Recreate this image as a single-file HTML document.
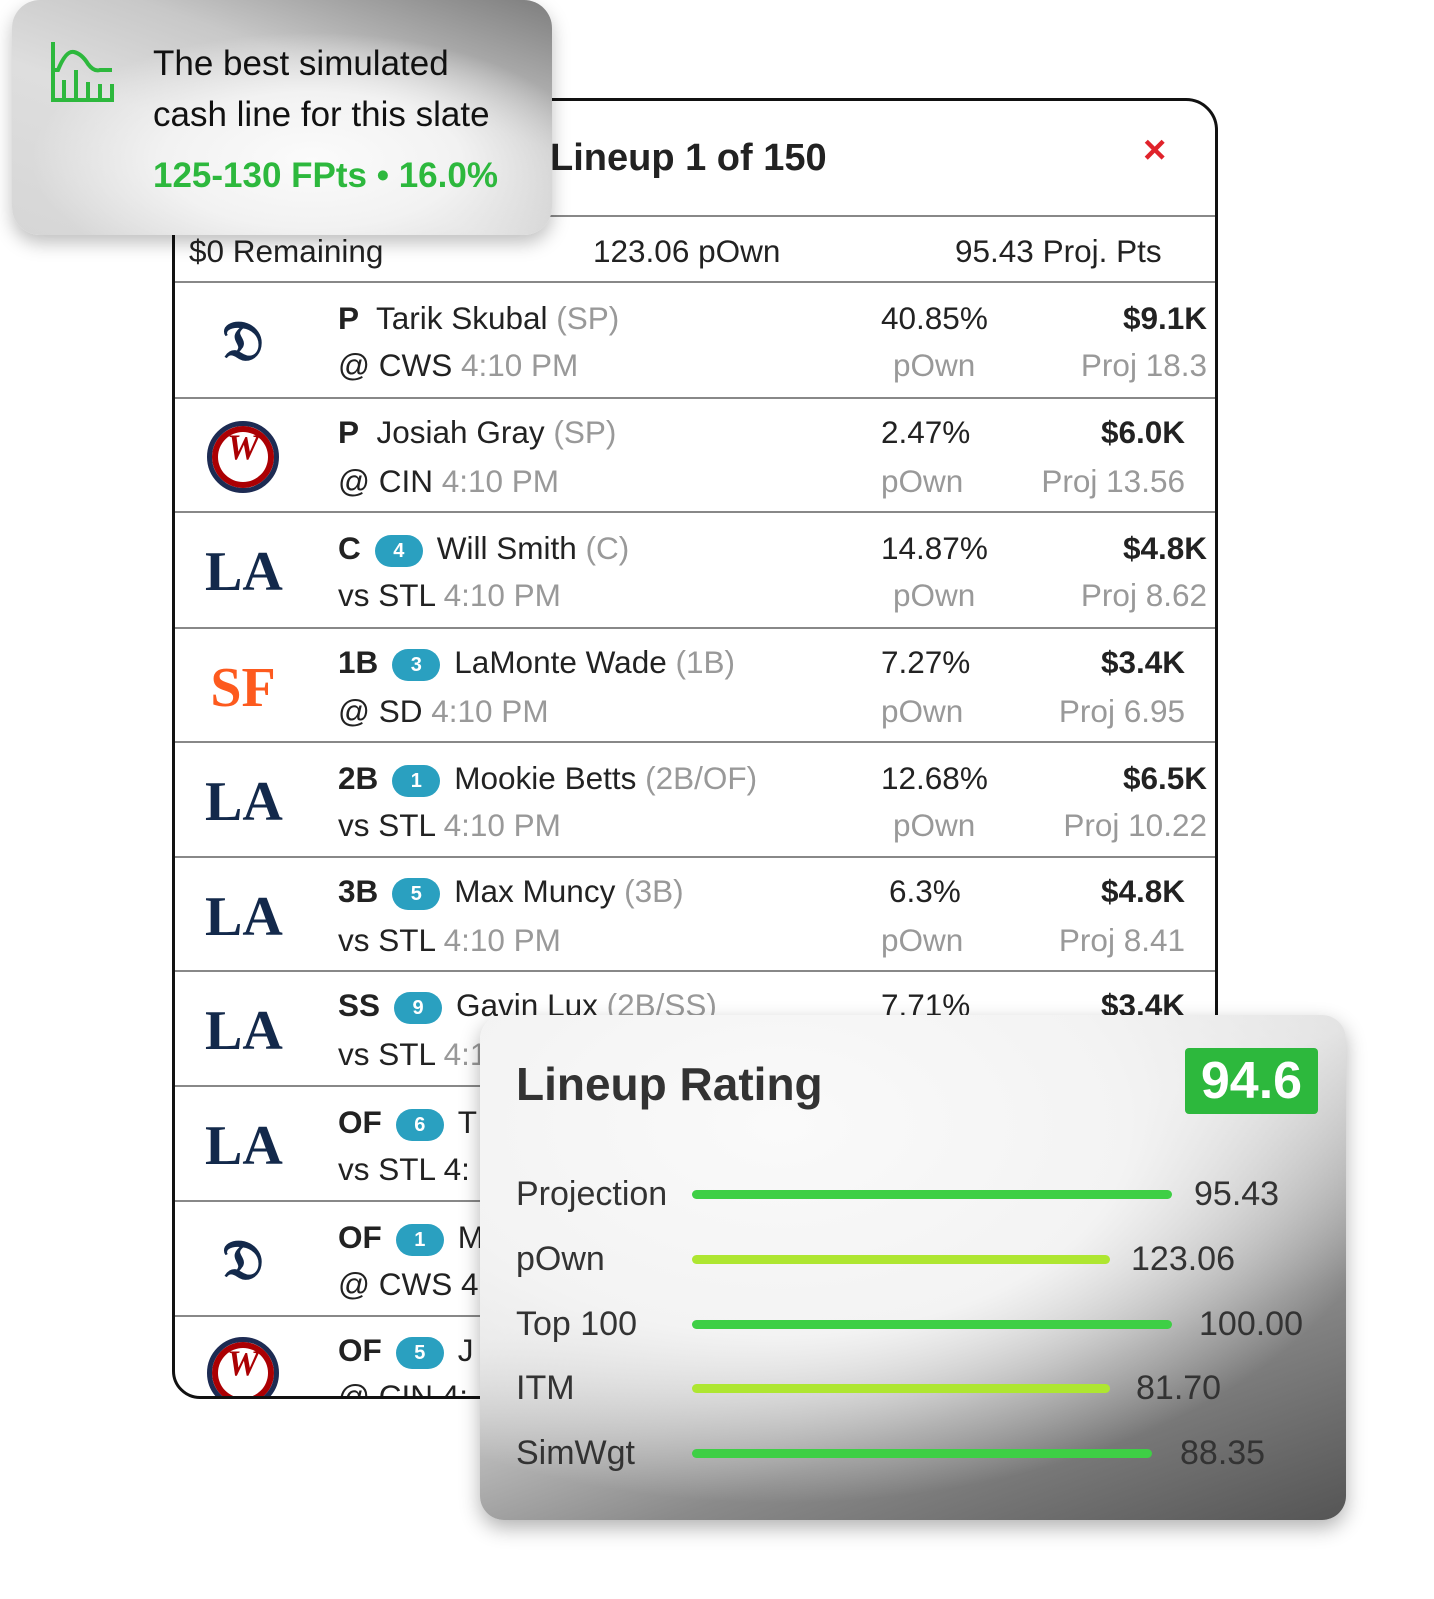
<!DOCTYPE html>
<html><head><meta charset="utf-8"><style>
body{margin:0;width:1434px;height:1599px;background:#fff;position:relative;overflow:hidden;font-family:"Liberation Sans",sans-serif;}
.a{position:absolute;white-space:nowrap}
#panel{position:absolute;left:172px;top:98px;width:1040px;height:1295px;border:3px solid #111;border-radius:6px 32px 6px 28px;overflow:hidden;background:#fff}
.row{position:absolute;left:0;width:1040px;height:114px;border-top:2px solid #888}
.t{position:absolute;font-size:31.5px;color:#222;white-space:nowrap;line-height:34px}
.g{color:#999}
.b{font-weight:bold}
.badge{display:inline-block;width:48px;height:32px;border-radius:16px;background:#2aa0c0;color:#fff;font-size:20px;font-weight:bold;text-align:center;line-height:32px;vertical-align:middle;margin:0 14px 0 14px}
.logo{position:absolute;left:30px;top:24px;width:76px;height:70px;text-align:center;font-size:56px;line-height:70px;font-weight:bold;color:#13294b;font-family:"Liberation Serif",serif}
.wsh{position:absolute;left:32px;top:22px;width:62px;height:62px;border-radius:50%;background:#fff;border:5px solid #1d2b53;box-shadow:inset 0 0 0 6px #ab0003;text-align:center;line-height:60px;color:#ab0003;font:italic bold 36px "Liberation Serif",serif}
#card1{position:absolute;left:12px;top:0;width:540px;height:235px;border-radius:28px;background:radial-gradient(ellipse 330px 150px at 300px 160px,#fbfbfb 0%,#f2f2f2 45%,rgba(220,220,220,0) 85%),linear-gradient(200deg,#7e7e7e 0%,#c8c8c8 35%,#dedede 60%,#d6d6d6 100%);box-shadow:0 8px 18px rgba(0,0,0,.25)}
#card2{position:absolute;left:480px;top:1015px;width:866px;height:505px;border-radius:24px;background:radial-gradient(ellipse 700px 420px at 300px 110px,#fafafa 0%,#f3f3f3 50%,rgba(190,190,190,0) 90%),linear-gradient(160deg,#f5f5f5 0%,#e0e0e0 40%,#8a8a8a 70%,#555 100%);box-shadow:0 8px 20px rgba(0,0,0,.3)}
.lab{position:absolute;left:36px;font-size:34px;color:#333}
.bar{position:absolute;left:212px;height:9px;border-radius:5px}
.val{position:absolute;font-size:34px;color:#333}
</style></head><body>
<div id="panel">
  <div class="t b" style="left:375px;top:35px;font-size:38px;line-height:44px">Lineup 1 of 150</div>
  <div class="t b" style="left:968px;top:32px;font-size:40px;color:#e0232b">×</div>
  <div style="position:absolute;left:0;top:114px;width:1040px;border-top:2px solid #888"></div>
  <div class="t" style="left:14px;top:133px">$0 Remaining</div>
  <div class="t" style="left:418px;top:133px">123.06 pOwn</div>
  <div class="t" style="left:780px;top:133px">95.43 Proj. Pts</div>

  <div class="row" style="top:180px"><div class="logo">𝔇</div>
    <div class="t" style="left:163px;top:18px"><b>P</b>&nbsp; Tarik Skubal <span class="g">(SP)</span></div>
    <div class="t" style="left:163px;top:65px">@ CWS <span class="g">4:10 PM</span></div>
    <div class="t" style="left:706px;top:18px">40.85%</div><div class="t g" style="left:718px;top:65px">pOwn</div>
    <div class="t b" style="right:8px;top:18px">$9.1K</div><div class="t g" style="right:8px;top:65px">Proj 18.3</div></div>

  <div class="row" style="top:296px"><div class="wsh">W</div>
    <div class="t" style="left:163px;top:16px"><b>P</b>&nbsp; Josiah Gray <span class="g">(SP)</span></div>
    <div class="t" style="left:163px;top:65px">@ CIN <span class="g">4:10 PM</span></div>
    <div class="t" style="left:706px;top:16px">2.47%</div><div class="t g" style="left:706px;top:65px">pOwn</div>
    <div class="t b" style="right:30px;top:16px">$6.0K</div><div class="t g" style="right:30px;top:65px">Proj 13.56</div></div>

  <div class="row" style="top:410px"><div class="logo">LA</div>
    <div class="t" style="left:163px;top:18px"><b>C</b><span class="badge">4</span>Will Smith <span class="g">(C)</span></div>
    <div class="t" style="left:163px;top:65px">vs STL <span class="g">4:10 PM</span></div>
    <div class="t" style="left:706px;top:18px">14.87%</div><div class="t g" style="left:718px;top:65px">pOwn</div>
    <div class="t b" style="right:8px;top:18px">$4.8K</div><div class="t g" style="right:8px;top:65px">Proj 8.62</div></div>

  <div class="row" style="top:526px"><div class="logo" style="color:#fd5a1e">SF</div>
    <div class="t" style="left:163px;top:16px"><b>1B</b><span class="badge">3</span>LaMonte Wade <span class="g">(1B)</span></div>
    <div class="t" style="left:163px;top:65px">@ SD <span class="g">4:10 PM</span></div>
    <div class="t" style="left:706px;top:16px">7.27%</div><div class="t g" style="left:706px;top:65px">pOwn</div>
    <div class="t b" style="right:30px;top:16px">$3.4K</div><div class="t g" style="right:30px;top:65px">Proj 6.95</div></div>

  <div class="row" style="top:640px"><div class="logo">LA</div>
    <div class="t" style="left:163px;top:18px"><b>2B</b><span class="badge">1</span>Mookie Betts <span class="g">(2B/OF)</span></div>
    <div class="t" style="left:163px;top:65px">vs STL <span class="g">4:10 PM</span></div>
    <div class="t" style="left:706px;top:18px">12.68%</div><div class="t g" style="left:718px;top:65px">pOwn</div>
    <div class="t b" style="right:8px;top:18px">$6.5K</div><div class="t g" style="right:8px;top:65px">Proj 10.22</div></div>

  <div class="row" style="top:755px"><div class="logo">LA</div>
    <div class="t" style="left:163px;top:16px"><b>3B</b><span class="badge">5</span>Max Muncy <span class="g">(3B)</span></div>
    <div class="t" style="left:163px;top:65px">vs STL <span class="g">4:10 PM</span></div>
    <div class="t" style="left:714px;top:16px">6.3%</div><div class="t g" style="left:706px;top:65px">pOwn</div>
    <div class="t b" style="right:30px;top:16px">$4.8K</div><div class="t g" style="right:30px;top:65px">Proj 8.41</div></div>

  <div class="row" style="top:869px"><div class="logo">LA</div>
    <div class="t" style="left:163px;top:16px"><b>SS</b><span class="badge">9</span>Gavin Lux <span class="g">(2B/SS)</span></div>
    <div class="t" style="left:163px;top:65px">vs STL <span class="g">4:10 PM</span></div>
    <div class="t" style="left:706px;top:16px">7.71%</div><div class="t g" style="left:706px;top:65px">pOwn</div>
    <div class="t b" style="right:30px;top:16px">$3.4K</div></div>

  <div class="row" style="top:984px"><div class="logo">LA</div>
    <div class="t" style="left:163px;top:18px"><b>OF</b><span class="badge">6</span>T</div>
    <div class="t" style="left:163px;top:65px">vs STL 4:</div></div>

  <div class="row" style="top:1099px"><div class="logo">𝔇</div>
    <div class="t" style="left:163px;top:18px"><b>OF</b><span class="badge">1</span>M</div>
    <div class="t" style="left:163px;top:65px">@ CWS 4</div></div>

  <div class="row" style="top:1214px"><div class="wsh" style="top:20px">W</div>
    <div class="t" style="left:163px;top:16px"><b>OF</b><span class="badge">5</span>J</div>
    <div class="t" style="left:163px;top:62px">@ CIN 4:</div></div>
</div>

<div id="card1">
  <svg class="a" style="left:38px;top:40px" width="64" height="64" viewBox="0 0 64 64" fill="none" stroke="#2db83d" stroke-width="4">
    <path d="M3 2V60H62V44M3 30H8Q16 10 24 12Q32 14 38 24Q44 32 50 30H62M14 60V40M26 60V30M38 60V42M50 60V44"/>
  </svg>
  <div class="a" style="left:141px;top:38px;font-size:35px;color:#111;line-height:51px">The best simulated<br>cash line for this slate</div>
  <div class="a" style="left:141px;top:156px;font-size:35px;color:#2db83d;font-weight:bold">125-130 FPts • 16.0%</div>
</div>

<div id="card2">
  <div class="a" style="left:36px;top:42px;font-size:46px;font-weight:bold;color:#333">Lineup Rating</div>
  <div class="a" style="left:705px;top:33px;width:133px;height:66px;background:#2db83d;border-radius:4px;color:#fff;font-size:52px;font-weight:bold;text-align:center;line-height:66px">94.6</div>
  <div class="lab" style="top:160px">Projection</div><div class="bar" style="top:175px;width:480px;background:#3ecf45"></div><div class="val" style="left:714px;top:160px">95.43</div>
  <div class="lab" style="top:225px">pOwn</div><div class="bar" style="top:240px;width:418px;background:#aee631"></div><div class="val" style="left:651px;top:225px">123.06</div>
  <div class="lab" style="top:290px">Top 100</div><div class="bar" style="top:305px;width:480px;background:#3ecf45"></div><div class="val" style="left:719px;top:290px">100.00</div>
  <div class="lab" style="top:354px">ITM</div><div class="bar" style="top:369px;width:418px;background:#aee631"></div><div class="val" style="left:656px;top:354px">81.70</div>
  <div class="lab" style="top:419px">SimWgt</div><div class="bar" style="top:434px;width:460px;background:#3ecf45"></div><div class="val" style="left:700px;top:419px">88.35</div>
</div>
</body></html>
